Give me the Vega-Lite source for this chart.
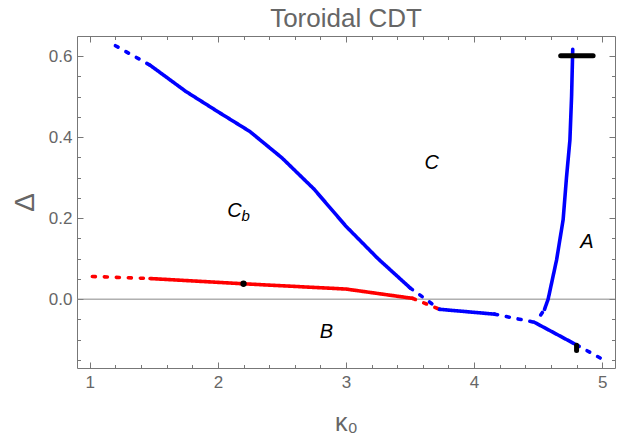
{
  "$schema": "https://vega.github.io/schema/vega-lite/v6.json",
  "width": 538,
  "height": 332,
  "autosize": {"type": "none"},
  "padding": {"left": 77, "top": 36, "right": 2, "bottom": 69},
  "background": "white",
  "title": {"text": "Toroidal CDT", "anchor": "middle", "frame": "group", "font": "Liberation Sans", "fontSize": 26, "fontWeight": "normal", "color": "#666666", "baseline": "alphabetic", "offset": -17},
  "config": {
    "view": {"stroke": null},
    "axis": {"grid": false, "domainColor": "#777777", "tickColor": "#777777", "labelColor": "#666666", "labelFont": "Liberation Sans", "labelFontSize": 17, "titleFont": "Liberation Sans", "titleColor": "#666666", "titleFontWeight": "normal"}
  },
  "datasets": {
    "zero": [{"delta": 0}],
    "curves": [
      {"seg": "s1", "transition": "C-Cb", "kind": "extrapolated", "k": 1.2, "delta": 0.626},
      {"seg": "s1", "transition": "C-Cb", "kind": "extrapolated", "k": 1.47, "delta": 0.578},
      {"seg": "s2", "transition": "C-Cb", "kind": "measured", "k": 1.47, "delta": 0.578},
      {"seg": "s2", "transition": "C-Cb", "kind": "measured", "k": 1.75, "delta": 0.513},
      {"seg": "s2", "transition": "C-Cb", "kind": "measured", "k": 2.0, "delta": 0.463},
      {"seg": "s2", "transition": "C-Cb", "kind": "measured", "k": 2.25, "delta": 0.414},
      {"seg": "s2", "transition": "C-Cb", "kind": "measured", "k": 2.5, "delta": 0.349},
      {"seg": "s2", "transition": "C-Cb", "kind": "measured", "k": 2.75, "delta": 0.272},
      {"seg": "s2", "transition": "C-Cb", "kind": "measured", "k": 3.0, "delta": 0.18},
      {"seg": "s2", "transition": "C-Cb", "kind": "measured", "k": 3.25, "delta": 0.1},
      {"seg": "s2", "transition": "C-Cb", "kind": "measured", "k": 3.5, "delta": 0.028},
      {"seg": "s3", "transition": "C-Cb", "kind": "extrapolated", "k": 3.5, "delta": 0.028},
      {"seg": "s3", "transition": "C-Cb", "kind": "extrapolated", "k": 3.73, "delta": -0.025},
      {"seg": "s4", "transition": "B-Cb", "kind": "extrapolated", "k": 1.02, "delta": 0.056},
      {"seg": "s4", "transition": "B-Cb", "kind": "extrapolated", "k": 1.47, "delta": 0.051},
      {"seg": "s5", "transition": "B-Cb", "kind": "measured", "k": 1.47, "delta": 0.051},
      {"seg": "s5", "transition": "B-Cb", "kind": "measured", "k": 2.2, "delta": 0.038},
      {"seg": "s5", "transition": "B-Cb", "kind": "measured", "k": 3.0, "delta": 0.025},
      {"seg": "s5", "transition": "B-Cb", "kind": "measured", "k": 3.52, "delta": 0.002},
      {"seg": "s6", "transition": "B-Cb", "kind": "extrapolated", "k": 3.52, "delta": 0.002},
      {"seg": "s6", "transition": "B-Cb", "kind": "extrapolated", "k": 3.73, "delta": -0.025},
      {"seg": "s7", "transition": "B-C", "kind": "measured", "k": 3.73, "delta": -0.025},
      {"seg": "s7", "transition": "B-C", "kind": "measured", "k": 4.16, "delta": -0.037},
      {"seg": "s8", "transition": "B-C", "kind": "extrapolated", "k": 4.16, "delta": -0.037},
      {"seg": "s8", "transition": "B-C", "kind": "extrapolated", "k": 4.47, "delta": -0.057},
      {"seg": "s9", "transition": "A-B", "kind": "measured", "k": 4.47, "delta": -0.057},
      {"seg": "s9", "transition": "A-B", "kind": "measured", "k": 4.8, "delta": -0.113},
      {"seg": "s10", "transition": "A-B", "kind": "extrapolated", "k": 4.8, "delta": -0.113},
      {"seg": "s10", "transition": "A-B", "kind": "extrapolated", "k": 5.0, "delta": -0.148},
      {"seg": "s11", "transition": "A-C", "kind": "extrapolated", "k": 4.52, "delta": -0.039},
      {"seg": "s11", "transition": "A-C", "kind": "extrapolated", "k": 4.55, "delta": -0.025},
      {"seg": "s12", "transition": "A-C", "kind": "measured", "k": 4.55, "delta": -0.025},
      {"seg": "s12", "transition": "A-C", "kind": "measured", "k": 4.578, "delta": 0.0},
      {"seg": "s12", "transition": "A-C", "kind": "measured", "k": 4.644, "delta": 0.097},
      {"seg": "s12", "transition": "A-C", "kind": "measured", "k": 4.695, "delta": 0.196},
      {"seg": "s12", "transition": "A-C", "kind": "measured", "k": 4.722, "delta": 0.303},
      {"seg": "s12", "transition": "A-C", "kind": "measured", "k": 4.748, "delta": 0.393},
      {"seg": "s12", "transition": "A-C", "kind": "measured", "k": 4.761, "delta": 0.5},
      {"seg": "s12", "transition": "A-C", "kind": "measured", "k": 4.77, "delta": 0.617}
    ],
    "errors": [
      {"k": 4.676, "k2": 4.929, "delta": 0.601, "delta2": 0.601},
      {"k": 4.8, "k2": 4.8, "delta": -0.114, "delta2": -0.127}
    ],
    "points": [{"k": 2.2, "delta": 0.038}],
    "labels": [
      {"label": "C", "k": 3.669, "delta": 0.337},
      {"label": "C", "k": 2.13, "delta": 0.218},
      {"label": "A", "k": 4.88, "delta": 0.142},
      {"label": "B", "k": 2.847, "delta": -0.081}
    ],
    "subscripts": [{"label": "b", "k": 2.217, "delta": 0.205}]
  },
  "resolve": {"axis": {"x": "independent", "y": "independent"}},
  "layer": [
    {
      "data": {"name": "zero"},
      "mark": {"type": "rule", "color": "#888888", "strokeWidth": 1},
      "encoding": {
        "y": {"field": "delta", "type": "quantitative", "scale": {"domain": [-0.17, 0.65], "nice": false, "zero": false}, "axis": null}
      }
    },
    {
      "data": {"name": "curves"},
      "mark": {"type": "line", "strokeWidth": 3.6, "strokeCap": "round", "strokeJoin": "round"},
      "encoding": {
        "x": {"field": "k", "type": "quantitative", "scale": {"domain": [0.9, 5.1], "nice": false, "zero": false},
          "axis": {"orient": "bottom", "values": [1, 1.2, 1.4, 1.6, 1.8, 2, 2.2, 2.4, 2.6, 2.8, 3, 3.2, 3.4, 3.6, 3.8, 4, 4.2, 4.4, 4.6, 4.8, 5],
            "tickSize": {"condition": {"test": "abs(datum.value - round(datum.value)) < 0.001", "value": -6}, "value": -3.5},
            "labelExpr": "abs(datum.value - round(datum.value)) < 0.001 ? format(datum.value, 'd') : ''",
            "labelPadding": 12, "labelFlush": false, "labelOverlap": false,
            "title": "κ₀", "titleFontSize": 25, "titleY": 62, "titleBaseline": "alphabetic"}},
        "y": {"field": "delta", "type": "quantitative", "scale": {"domain": [-0.17, 0.65], "nice": false, "zero": false},
          "axis": {"orient": "left", "values": [-0.15, -0.1, -0.05, 0, 0.05, 0.1, 0.15, 0.2, 0.25, 0.3, 0.35, 0.4, 0.45, 0.5, 0.55, 0.6],
            "tickSize": {"condition": {"test": "abs(datum.value * 5 - round(datum.value * 5)) < 0.001", "value": -6}, "value": -3.5},
            "labelExpr": "abs(datum.value * 5 - round(datum.value * 5)) < 0.001 ? format(datum.value, '.1f') : ''",
            "labelPadding": 11, "labelFlush": false, "labelOverlap": false,
            "title": "Δ", "titleFontSize": 28, "titleX": -44, "titleY": 166, "titleAngle": -90, "titleAlign": "center", "titleBaseline": "alphabetic"}},
        "color": {"field": "transition", "type": "nominal", "scale": {"domain": ["C-Cb", "B-Cb", "B-C", "A-B", "A-C"], "range": ["#0000ff", "#ff0000", "#0000ff", "#0000ff", "#0000ff"]}, "legend": null},
        "strokeDash": {"field": "kind", "type": "nominal", "scale": {"domain": ["measured", "extrapolated"], "range": [[1, 0], [3, 9]]}, "legend": null},
        "detail": {"field": "seg", "type": "nominal"}
      }
    },
    {
      "data": {"name": "errors"},
      "mark": {"type": "rule", "color": "black", "strokeWidth": 5, "strokeCap": "round"},
      "encoding": {
        "x": {"field": "k", "type": "quantitative", "scale": {"domain": [0.9, 5.1], "nice": false, "zero": false},
          "axis": {"orient": "top", "values": [1, 1.2, 1.4, 1.6, 1.8, 2, 2.2, 2.4, 2.6, 2.8, 3, 3.2, 3.4, 3.6, 3.8, 4, 4.2, 4.4, 4.6, 4.8, 5],
            "tickSize": {"condition": {"test": "abs(datum.value - round(datum.value)) < 0.001", "value": -6}, "value": -3.5},
            "labels": false, "title": null}},
        "x2": {"field": "k2"},
        "y": {"field": "delta", "type": "quantitative", "scale": {"domain": [-0.17, 0.65], "nice": false, "zero": false},
          "axis": {"orient": "right", "values": [-0.15, -0.1, -0.05, 0, 0.05, 0.1, 0.15, 0.2, 0.25, 0.3, 0.35, 0.4, 0.45, 0.5, 0.55, 0.6],
            "tickSize": {"condition": {"test": "abs(datum.value * 5 - round(datum.value * 5)) < 0.001", "value": -6}, "value": -3.5},
            "labels": false, "title": null}},
        "y2": {"field": "delta2"}
      }
    },
    {
      "data": {"name": "points"},
      "mark": {"type": "point", "filled": true, "color": "black", "size": 40, "opacity": 1},
      "encoding": {
        "x": {"field": "k", "type": "quantitative", "axis": null},
        "y": {"field": "delta", "type": "quantitative", "axis": null}
      }
    },
    {
      "data": {"name": "labels"},
      "mark": {"type": "text", "font": "Liberation Sans", "fontSize": 20, "fontStyle": "italic", "color": "black", "align": "center", "baseline": "middle"},
      "encoding": {
        "x": {"field": "k", "type": "quantitative", "axis": null},
        "y": {"field": "delta", "type": "quantitative", "axis": null},
        "text": {"field": "label"}
      }
    },
    {
      "data": {"name": "subscripts"},
      "mark": {"type": "text", "font": "Liberation Sans", "fontSize": 15, "fontStyle": "italic", "color": "black", "align": "center", "baseline": "middle"},
      "encoding": {
        "x": {"field": "k", "type": "quantitative", "axis": null},
        "y": {"field": "delta", "type": "quantitative", "axis": null},
        "text": {"field": "label"}
      }
    }
  ]
}
